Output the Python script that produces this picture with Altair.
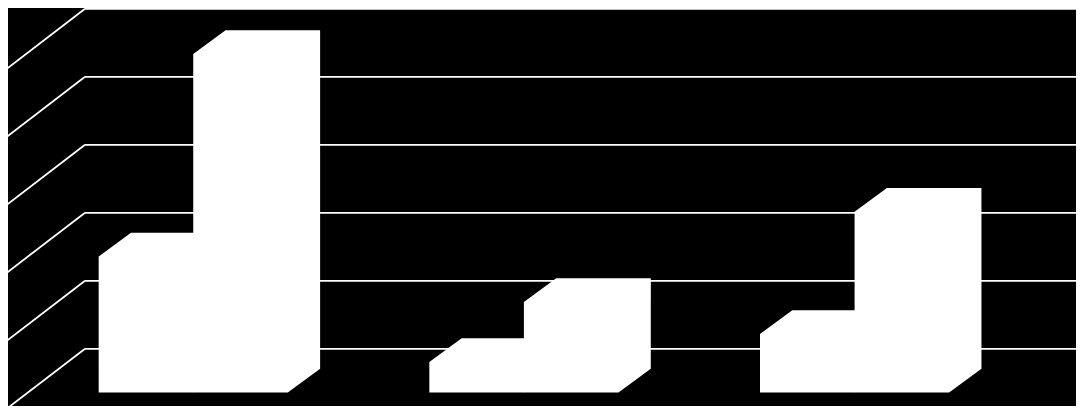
import altair as alt
import pandas as pd

# --- data (values in gridline units) ---
categories = ["A", "B", "C"]
series1 = [2.0, 0.45, 0.86]
series2 = [4.98, 1.33, 2.66]
grid_values = [0, 1, 2, 3, 4, 5]

# --- 3D projection layout (in data units) ---
DEPTH_X, DEPTH_Y = 0.245, 0.912        # full depth of floor / wall
BAR_FRONT = 0.295                       # depth fraction where bar fronts sit
BAR_DX, BAR_DY = 0.0977, 0.349          # depth of each bar
GAP, BAR_W = 0.214, 0.286

base_x = BAR_FRONT * DEPTH_X
base_y = -DEPTH_Y + BAR_FRONT * DEPTH_Y

rows = []
for i, cat in enumerate(categories):
    for s, vals in enumerate([series1, series2]):
        v = vals[i]
        x0 = i + base_x + GAP + s * BAR_W
        x1 = x0 + BAR_W
        yb = base_y
        yt = yb + v
        bid = f"{cat}-{s}"
        pts = [
            (x0, yt, yb),
            (x0 + BAR_DX, yt + BAR_DY, yb),
            (x1, yt + BAR_DY, yb),
            (x1 + BAR_DX, yt + BAR_DY, yb + BAR_DY),
        ]
        for (px, py, py2) in pts:
            rows.append({"bar": bid, "px": px, "top": py, "bottom": py2})
bars = pd.DataFrame(rows)

n = len(categories)
grid = pd.DataFrame({
    "v": grid_values,
    "xb0": [DEPTH_X] * len(grid_values),
    "xb1": [n + DEPTH_X] * len(grid_values),
    "xf": [0.0] * len(grid_values),
    "vf": [g - DEPTH_Y for g in grid_values],
})

xscale = alt.Scale(domain=[0.0121, 3.2419], nice=False, zero=False)
yscale = alt.Scale(domain=[-0.841, 5.012], nice=False, zero=False)


def X(f):
    return alt.X(f, type="quantitative", scale=xscale, axis=None)


def Y(f):
    return alt.Y(f, type="quantitative", scale=yscale, axis=None, stack=None)


back = alt.Chart(grid).mark_rule(color="#ffffff", strokeWidth=1.8).encode(
    x=X("xb0"), x2=alt.X2("xb1"), y=Y("v")
)
side = alt.Chart(grid).mark_rule(color="#ffffff", strokeWidth=1.8).encode(
    x=X("xf"), x2=alt.X2("xb0"), y=Y("vf"), y2=alt.Y2("v")
)
bar_layer = alt.Chart(bars).mark_area(color="#ffffff", fillOpacity=1).encode(
    x=X("px"), y=Y("top"), y2=alt.Y2("bottom"), detail=alt.Detail("bar", type="nominal")
)

chart = alt.layer(back, side, bar_layer).properties(
    width=1068, height=398,
    background="#000000",
    padding=0,
    autosize=alt.AutoSizeParams(type="none"),
).configure_view(stroke=None)

chart.save("out.html", embed_options={"renderer": "svg", "actions": False})
